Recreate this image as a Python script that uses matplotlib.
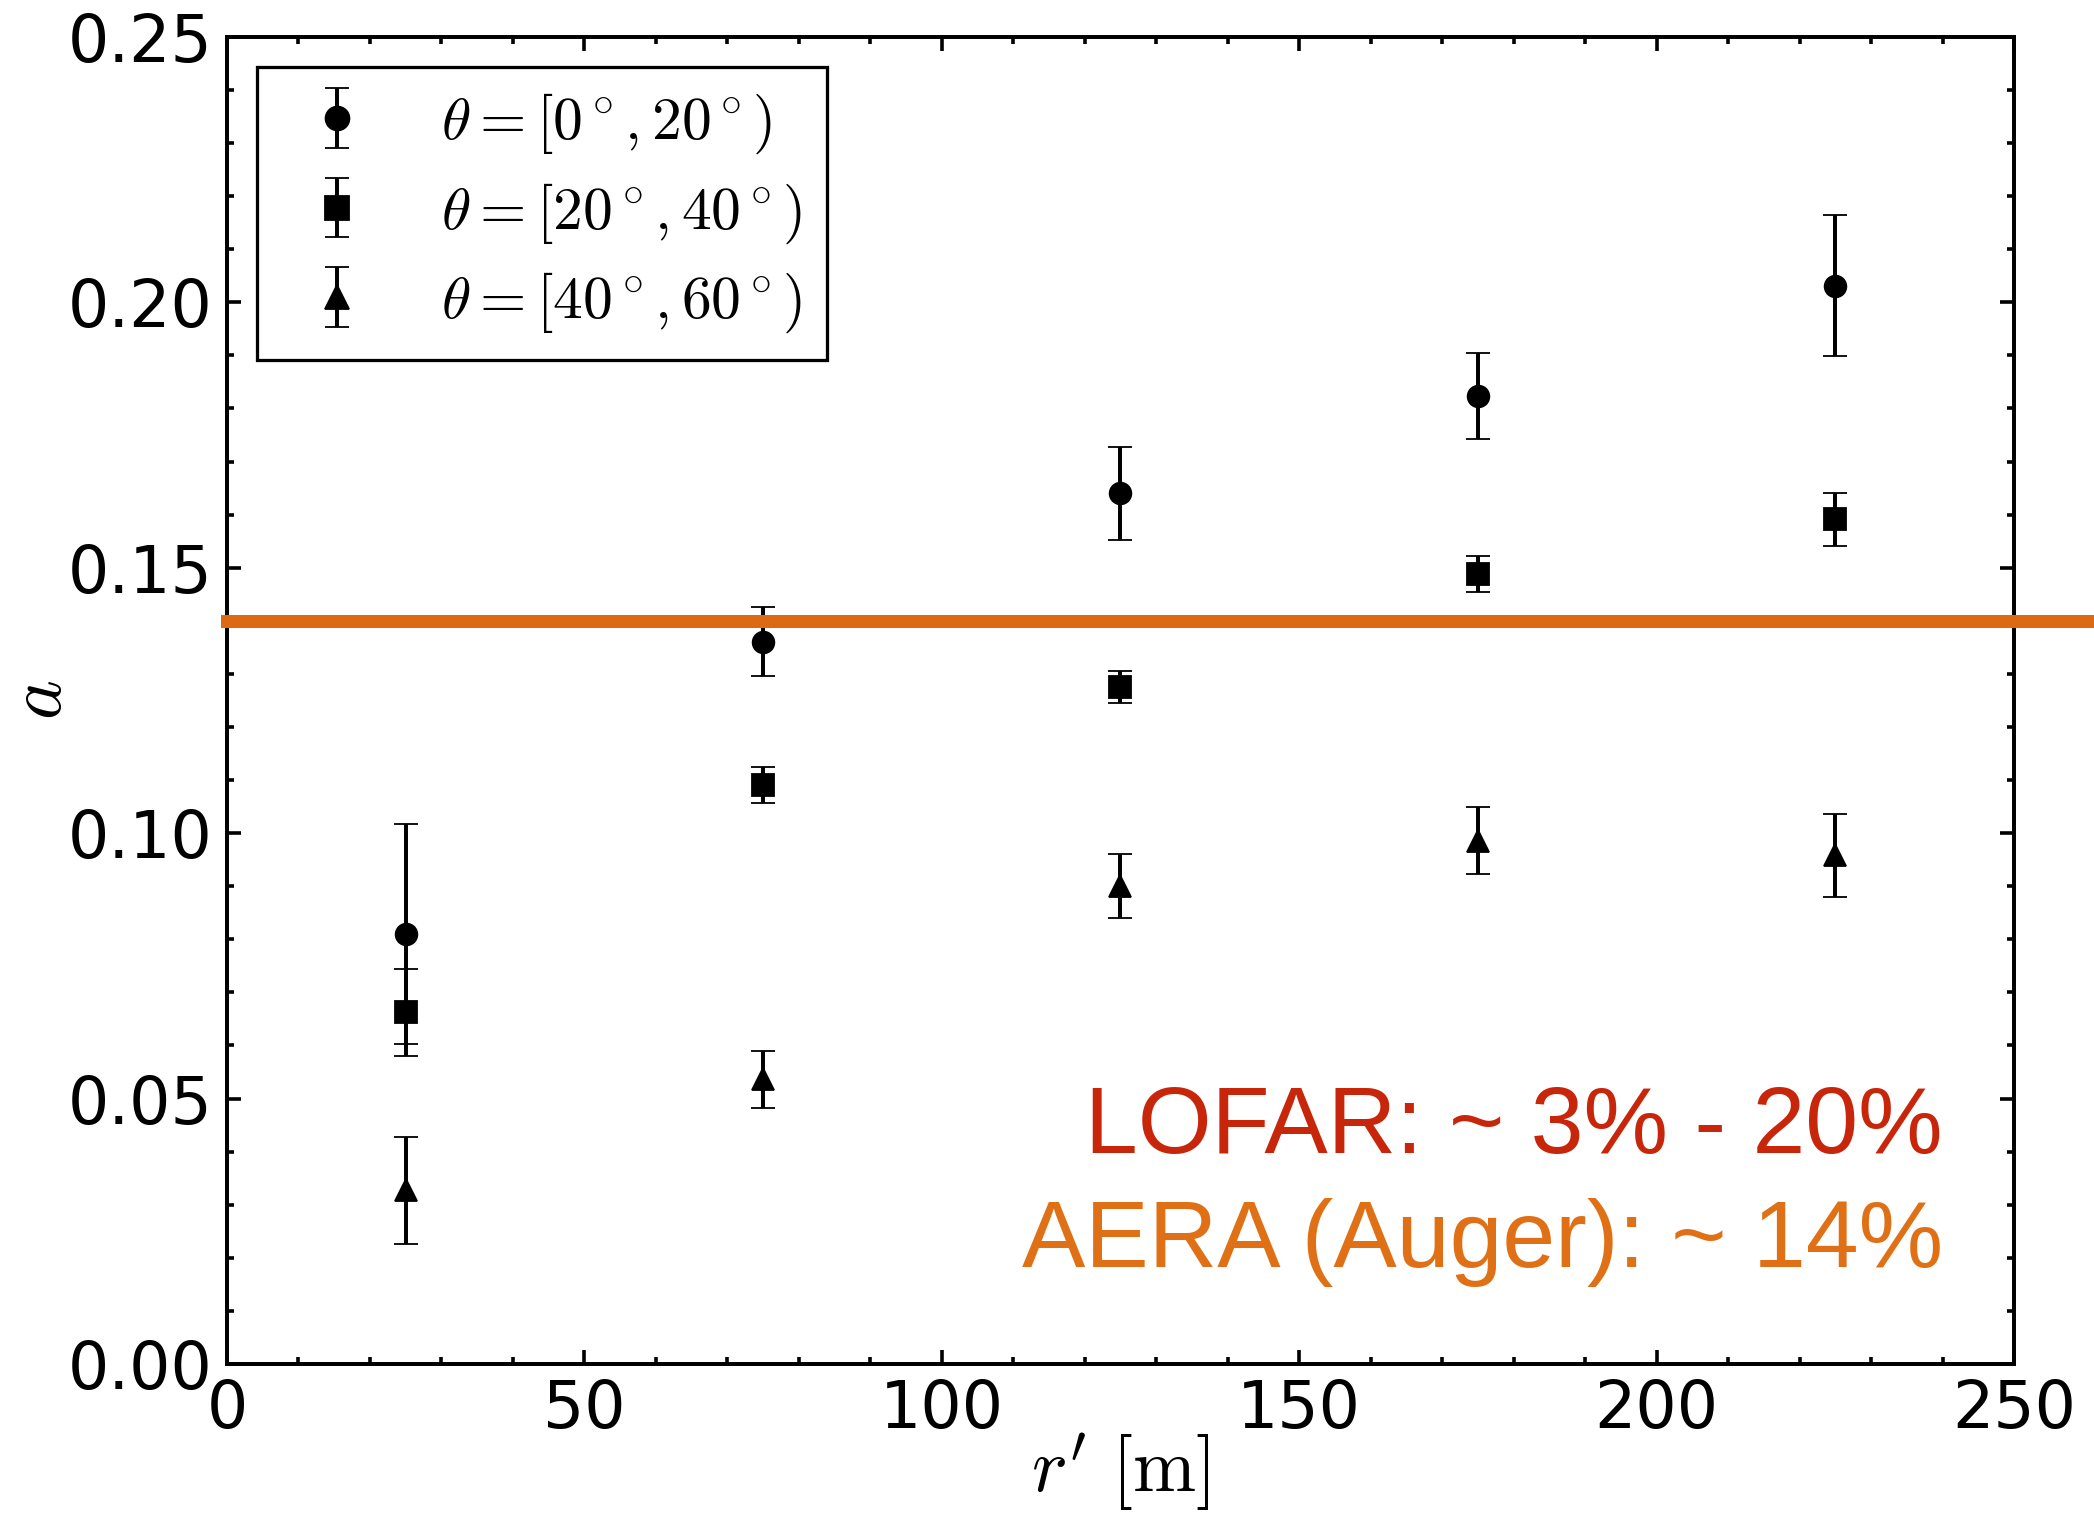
import matplotlib
matplotlib.use("Agg")
import matplotlib.pyplot as plt
from matplotlib.ticker import MultipleLocator

# distance to shower axis r' [m]
r_prime = [25, 75, 125, 175, 225]

# charge-excess fraction a per zenith-angle bin, with errors
a_0_20 = [0.0810, 0.1361, 0.1640, 0.1823, 0.2031]
err_0_20 = [0.0207, 0.0065, 0.0087, 0.0081, 0.0133]

a_20_40 = [0.0663, 0.1091, 0.1275, 0.1488, 0.1591]
err_20_40 = [0.0082, 0.0034, 0.0030, 0.0034, 0.0050]

a_40_60 = [0.0327, 0.0536, 0.0900, 0.0986, 0.0958]
err_40_60 = [0.0101, 0.0054, 0.0060, 0.0063, 0.0079]

labels = [r'$\theta=[0^\circ,20^\circ)$',
          r'$\theta=[20^\circ,40^\circ)$',
          r'$\theta=[40^\circ,60^\circ)$']
markers = ['o', 's', '^']

aera_level = 0.14

plt.rcParams['mathtext.fontset'] = 'cm'
plt.rcParams['font.family'] = 'DejaVu Sans'

DPI = 260
fig = plt.figure(figsize=(2094 / DPI, 1513 / DPI), dpi=DPI)
fig.patch.set_facecolor('white')
ax = fig.add_axes([0.1084, 0.0985, 0.8534, 0.8771])

series = [(a_0_20, err_0_20), (a_20_40, err_20_40), (a_40_60, err_40_60)]
for (vals, errs), m, lab in zip(series, markers, labels):
    ax.errorbar(r_prime, vals, yerr=errs, fmt=m, color='black', ms=6, mew=0.5,
                elinewidth=1.1, capsize=3.2, capthick=1.1, label=lab)

# AERA reference level, running past the right spine
ax.axhline(aera_level, xmin=0, xmax=1.2, color='#DD6A12', lw=3.6,
           clip_on=False, zorder=5)

ax.set_xlim(0, 250)
ax.set_ylim(0, 0.25)
ax.xaxis.set_major_locator(MultipleLocator(50))
ax.xaxis.set_minor_locator(MultipleLocator(10))
ax.yaxis.set_major_locator(MultipleLocator(0.05))
ax.yaxis.set_minor_locator(MultipleLocator(0.01))
ax.yaxis.set_major_formatter(matplotlib.ticker.FormatStrFormatter('%.2f'))

ax.tick_params(which='both', direction='in', top=True, right=True, width=1.0)
ax.tick_params(which='major', length=4, labelsize=18, pad=4)
ax.tick_params(which='minor', length=2)
for sp in ax.spines.values():
    sp.set_linewidth(1.1)

ax.set_xlabel(r"$r^{\prime}\ [\mathrm{m}]$", fontsize=21)
ax.set_ylabel(r'$a$', fontsize=21)
ax.xaxis.set_label_coords(0.5, -0.051)
ax.yaxis.set_label_coords(-0.084, 0.5)

leg = ax.legend(loc='upper left', bbox_to_anchor=(0.0166, 0.9776),
                borderaxespad=0, fontsize=16.5, numpoints=1, fancybox=False,
                framealpha=1, edgecolor='black', handlelength=1.85,
                handletextpad=0.82, labelspacing=0.42, borderpad=0.42,
                markerscale=1.1)
leg.get_frame().set_linewidth(0.9)

ax.text(0.9603, 0.159, 'LOFAR: ~ 3% - 20%', transform=ax.transAxes,
        ha='right', va='baseline', fontsize=26.3, color='#C8260A',
        family='Liberation Sans')
ax.text(0.9603, 0.0731, 'AERA (Auger): ~ 14%', transform=ax.transAxes,
        ha='right', va='baseline', fontsize=26.3, color='#E07015',
        family='Liberation Sans')

fig.savefig('out.png', dpi=DPI)
